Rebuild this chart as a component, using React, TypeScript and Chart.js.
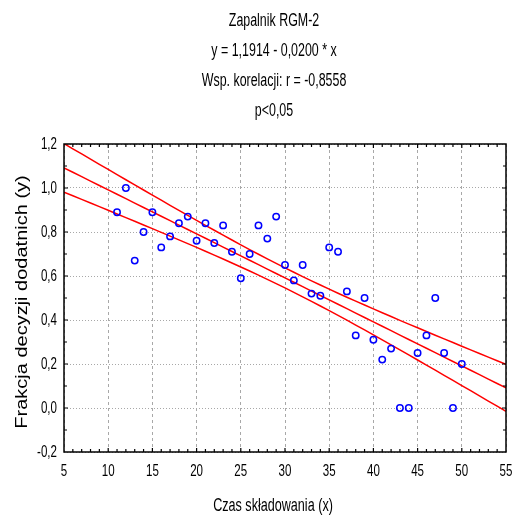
import React, { useEffect, useRef } from 'react';
import { Chart, registerables } from 'chart.js';

Chart.register(...registerables);

const TITLE_LINES = [
  'Zapalnik RGM-2',
  'y = 1,1914 - 0,0200 * x',
  'Wsp. korelacji: r = -0,8558',
  'p<0,05',
];
const X_LABEL = 'Czas składowania (x)';
const Y_LABEL = 'Frakcja decyzji dodatnich (y)';
const X_TICKS = [5, 10, 15, 20, 25, 30, 35, 40, 45, 50, 55];
const X_TICK_LABELS = ['5', '10', '15', '20', '25', '30', '35', '40', '45', '50', '55'];
const Y_TICKS = [-0.2, 0, 0.2, 0.4, 0.6, 0.8, 1.0, 1.2];
const Y_TICK_LABELS = ['-0,2', '0,0', '0,2', '0,4', '0,6', '0,8', '1,0', '1,2'];

const STORAGE_TIME = [
  11, 12, 13, 14, 15, 16, 17, 18, 19, 20,
  21, 22, 23, 24, 25, 26, 27, 28, 29, 30,
  31, 32, 33, 34, 35, 36, 37, 38, 39, 40,
  41, 42, 43, 44, 45, 46, 47, 48, 49, 50,
];
const POSITIVE_FRACTION = [
  0.89, 1.0, 0.67, 0.8, 0.89, 0.73, 0.78, 0.84, 0.87, 0.76,
  0.84, 0.75, 0.83, 0.71, 0.59, 0.7, 0.83, 0.77, 0.87, 0.65,
  0.58, 0.65, 0.52, 0.51, 0.73, 0.71, 0.53, 0.33, 0.5, 0.31,
  0.22, 0.27, 0.0, 0.0, 0.25, 0.33, 0.5, 0.25, 0.0, 0.2,
];

const INTERCEPT = 1.1914;
const SLOPE = -0.02;
const T_CRIT = 2.024; // 95%, df = 38

const X_MIN = 5;
const X_MAX = 55;
const Y_MIN = -0.2;
const Y_MAX = 1.2;

const FONT = "'Liberation Sans', Arial, sans-serif";

function buildLines() {
  const n = STORAGE_TIME.length;
  const xbar = STORAGE_TIME.reduce((a, b) => a + b, 0) / n;
  let sxx = 0;
  let sse = 0;
  for (let i = 0; i < n; i++) {
    sxx += (STORAGE_TIME[i] - xbar) ** 2;
    const r = POSITIVE_FRACTION[i] - (INTERCEPT + SLOPE * STORAGE_TIME[i]);
    sse += r * r;
  }
  const s = Math.sqrt(sse / (n - 2));
  const fit: { x: number; y: number }[] = [];
  const upper: { x: number; y: number }[] = [];
  const lower: { x: number; y: number }[] = [];
  for (let x = X_MIN; x <= X_MAX; x += 1) {
    const yh = INTERCEPT + SLOPE * x;
    const hw = T_CRIT * s * Math.sqrt(1 / n + (x - xbar) ** 2 / sxx);
    fit.push({ x, y: yh });
    upper.push({ x, y: yh + hw });
    lower.push({ x, y: yh - hw });
  }
  return { fit, upper, lower };
}

// draw horizontally condensed text (like Arial Narrow)
function narrowText(
  ctx: CanvasRenderingContext2D,
  text: string,
  x: number,
  y: number,
  size: number,
  k: number,
  align: CanvasTextAlign,
  rotate = 0
) {
  ctx.save();
  ctx.translate(x, y);
  ctx.scale(k, 1);
  if (rotate) ctx.rotate(rotate);
  ctx.font = `${size}px ${FONT}`;
  ctx.textAlign = align;
  ctx.textBaseline = 'middle';
  ctx.fillStyle = '#000';
  ctx.fillText(text, 0, 0);
  ctx.restore();
}

const framePlugin = {
  id: 'frameTicksTitle',
  afterDraw(chart: any) {
    const { ctx, chartArea: a, scales } = chart;
    const xs = scales.x;
    const ys = scales.y;
    ctx.save();
    ctx.strokeStyle = '#000';
    ctx.lineWidth = 1.5;
    ctx.strokeRect(a.left, a.top, a.right - a.left, a.bottom - a.top);
    ctx.lineWidth = 1.2;
    ctx.beginPath();
    for (let v = X_MIN + 1; v < X_MAX; v += 1) {
      const px = xs.getPixelForValue(v);
      const len = v % 5 === 0 ? 4 : 3;
      ctx.moveTo(px, a.bottom);
      ctx.lineTo(px, a.bottom - len);
      ctx.moveTo(px, a.top);
      ctx.lineTo(px, a.top + len);
    }
    for (let k = 1; k < 14; k++) {
      const py = ys.getPixelForValue(Y_MIN + k * 0.1);
      const len = k % 2 === 0 ? 4 : 3;
      ctx.moveTo(a.left, py);
      ctx.lineTo(a.left + len, py);
      ctx.moveTo(a.right, py);
      ctx.lineTo(a.right - len, py);
    }
    ctx.stroke();
    ctx.restore();

    // tick labels
    X_TICKS.forEach((v, i) => {
      narrowText(ctx, X_TICK_LABELS[i], xs.getPixelForValue(v), a.bottom + 19, 17, 0.68, 'center');
    });
    Y_TICKS.forEach((v, i) => {
      narrowText(ctx, Y_TICK_LABELS[i], a.left - 7, ys.getPixelForValue(v), 17, 0.68, 'right');
    });
    // axis titles
    narrowText(ctx, X_LABEL, 273, 506, 18, 0.7, 'center');
    narrowText(ctx, Y_LABEL, 23, (a.top + a.bottom) / 2 + 4, 20, 0.78, 'center', -Math.PI / 2);
    // chart title
    TITLE_LINES.forEach((t, i) => {
      narrowText(ctx, t, 274, 21 + i * 30, 18, 0.69, 'center');
    });
  },
};

export default function App() {
  const ref = useRef<HTMLCanvasElement | null>(null);

  useEffect(() => {
    if (!ref.current) return;
    const { fit, upper, lower } = buildLines();
    const points = STORAGE_TIME.map((x, i) => ({ x, y: POSITIVE_FRACTION[i] }));
    const lineDs = (data: any) => ({
      data,
      showLine: true,
      borderColor: '#ff0000',
      borderWidth: 1.5,
      pointRadius: 0,
      fill: false,
    });
    const chart = new Chart(ref.current, {
      type: 'scatter',
      data: {
        datasets: [
          {
            data: points,
            pointStyle: 'circle',
            pointRadius: 3.2,
            pointBorderWidth: 1.5,
            pointBorderColor: '#0000ff',
            pointBackgroundColor: 'rgba(0,0,0,0)',
            showLine: false,
          } as any,
          lineDs(fit),
          lineDs(upper),
          lineDs(lower),
        ],
      },
      options: {
        animation: false,
        responsive: false,
        layout: { padding: { top: 144, right: 10, left: 64, bottom: 66 } },
        plugins: {
          legend: { display: false },
          title: { display: false },
          tooltip: { enabled: false },
        },
        scales: {
          x: {
            type: 'linear',
            min: X_MIN,
            max: X_MAX,
            afterFit: (s: any) => {
              s.height = 0;
            },
            ticks: { stepSize: 5, display: false },
            grid: { color: '#a8a8a8', lineWidth: 1, drawTicks: false },
            border: { display: false, dash: [3, 3] },
          },
          y: {
            type: 'linear',
            min: Y_MIN,
            max: Y_MAX,
            afterFit: (s: any) => {
              s.width = 0;
            },
            ticks: { stepSize: 0.2, display: false },
            grid: { color: '#a8a8a8', lineWidth: 1, drawTicks: false },
            border: { display: false, dash: [1, 2] },
          },
        },
      },
      plugins: [framePlugin],
    } as any);
    return () => chart.destroy();
  }, []);

  return (
    <div style={{ position: 'absolute', left: 0, top: 0, width: 516, height: 518, background: '#fff' }}>
      <canvas ref={ref} width={516} height={518} style={{ display: 'block' }} />
    </div>
  );
}
